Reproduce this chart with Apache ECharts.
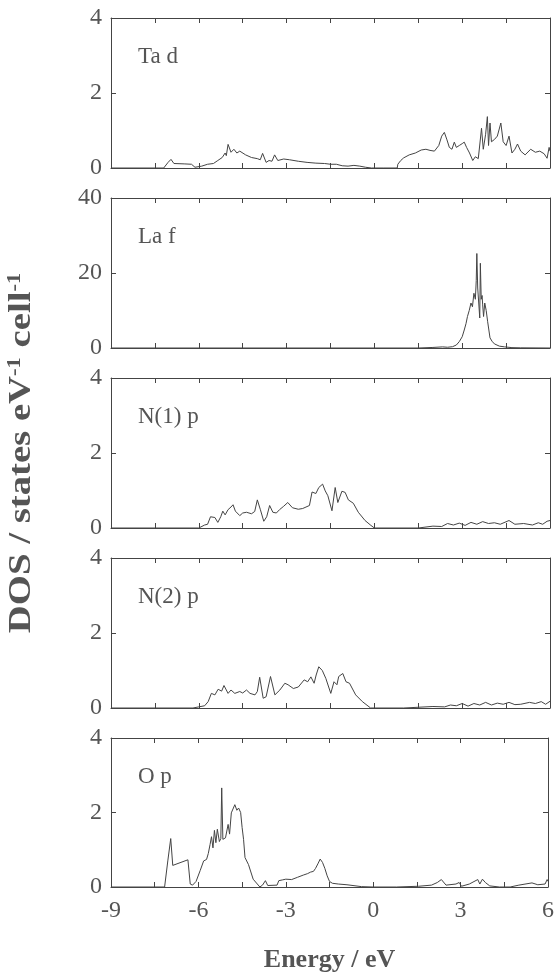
<!DOCTYPE html>
<html>
<head>
<meta charset="utf-8">
<script src="https://cdn.jsdelivr.net/npm/echarts@6/dist/echarts.min.js"></script>
<style>
  html, body { margin: 0; padding: 0; background: #fff; }
  #main { width: 557px; height: 974px; }
</style>
</head>
<body>
<div id="main"></div>
<script>
// energy range and panel labels
var xMin = -9, xMax = 6;
var panelNames = ['Ta d', 'La f', 'N(1) p', 'N(2) p', 'O p'];
var panelMax = [4, 40, 4, 4, 4];

// DOS curves, [energy eV, DOS]
var taD = [[-9,0],[-7.2,0],[-7.05,0.15],[-6.95,0.23],[-6.85,0.12],[-6.5,0.11],[-6.25,0.1],[-6.13,0.02],[-5.9,0.05],[-5.7,0.1],
  [-5.5,0.12],[-5.35,0.2],[-5.2,0.28],[-5.1,0.4],[-5.06,0.33],[-5.0,0.63],[-4.9,0.42],[-4.8,0.5],[-4.7,0.4],[-4.6,0.45],
  [-4.4,0.35],[-4.2,0.28],[-4.0,0.25],[-3.9,0.22],[-3.82,0.39],[-3.7,0.15],[-3.6,0.2],[-3.5,0.18],[-3.41,0.35],[-3.3,0.2],
  [-3.1,0.24],[-2.9,0.22],[-2.6,0.18],[-2.3,0.15],[-2.0,0.13],[-1.7,0.12],[-1.5,0.1],[-1.3,0.1],[-1.1,0.06],[-0.9,0.05],
  [-0.7,0.07],[-0.5,0.05],[-0.3,0.02],[-0.1,0],[0.3,0],[0.78,0],[0.8,0.1],[0.9,0.2],[1.0,0.27],[1.19,0.35],
  [1.4,0.4],[1.6,0.48],[1.76,0.5],[1.9,0.47],[2.05,0.45],[2.2,0.6],[2.3,0.85],[2.39,0.95],[2.48,0.75],[2.56,0.55],
  [2.65,0.5],[2.73,0.69],[2.8,0.55],[2.9,0.6],[3.0,0.65],[3.07,0.69],[3.15,0.55],[3.25,0.4],[3.36,0.2],[3.45,0.3],
  [3.55,0.25],[3.66,1.06],[3.72,0.5],[3.8,0.9],[3.86,1.37],[3.9,0.6],[3.95,1.2],[4.0,0.7],[4.1,0.76],[4.2,0.85],
  [4.32,1.2],[4.4,0.7],[4.5,0.6],[4.6,0.85],[4.7,0.4],[4.8,0.5],[4.89,0.64],[5.0,0.45],[5.15,0.35],[5.34,0.5],
  [5.5,0.42],[5.65,0.45],[5.8,0.38],[5.9,0.26],[5.97,0.55],[6.0,0.45]];

var laF = [[-9,0],[1.5,0],[2.0,0.15],[2.33,0.3],[2.5,0.2],[2.67,0.35],[2.8,0.8],[2.9,1.7],[3.0,3],[3.07,4.8],
  [3.13,6.5],[3.18,8.4],[3.24,10],[3.3,12],[3.35,11],[3.4,14.6],[3.45,13],[3.48,18],[3.5,25.2],[3.53,16],
  [3.56,15.8],[3.6,8],[3.62,22.6],[3.65,13],[3.68,14],[3.7,11.5],[3.73,8.4],[3.77,12],[3.82,10],[3.87,7],
  [3.95,2.7],[4.02,1.8],[4.1,1.1],[4.27,0.5],[4.45,0.3],[4.7,0.1],[5.0,0.05],[6,0]];

var n1P = [[-9,0],[-6.0,0],[-5.8,0.08],[-5.7,0.1],[-5.6,0.3],[-5.45,0.28],[-5.35,0.15],[-5.25,0.3],[-5.18,0.45],[-5.1,0.35],
  [-5.0,0.49],[-4.9,0.56],[-4.83,0.62],[-4.75,0.45],[-4.6,0.33],[-4.5,0.4],[-4.37,0.42],[-4.2,0.38],[-4.09,0.44],[-4.0,0.75],
  [-3.9,0.5],[-3.78,0.18],[-3.68,0.3],[-3.58,0.6],[-3.47,0.42],[-3.35,0.4],[-3.24,0.49],[-3.1,0.58],[-2.96,0.68],[-2.8,0.54],
  [-2.6,0.5],[-2.45,0.52],[-2.22,0.6],[-2.13,0.96],[-2.0,0.92],[-1.9,1.08],[-1.77,1.17],[-1.68,0.99],[-1.59,0.86],[-1.45,0.46],
  [-1.34,1.08],[-1.25,0.68],[-1.11,0.98],[-1.0,0.95],[-0.89,0.75],[-0.72,0.66],[-0.55,0.42],[-0.32,0.2],[-0.12,0.07],[0,0],
  [1.5,0],[2.0,0.05],[2.3,0.04],[2.5,0.12],[2.7,0.08],[2.9,0.13],[3.1,0.07],[3.3,0.15],[3.5,0.1],[3.7,0.17],
  [3.9,0.12],[4.1,0.14],[4.3,0.1],[4.6,0.2],[4.8,0.1],[5.1,0.12],[5.4,0.08],[5.6,0.14],[5.75,0.1],[5.9,0.18],[6,0.2]];

var n2P = [[-9,0],[-6.2,0],[-6.0,0.03],[-5.8,0.06],[-5.68,0.17],[-5.57,0.39],[-5.45,0.35],[-5.34,0.5],[-5.22,0.45],[-5.14,0.6],
  [-5.0,0.39],[-4.9,0.48],[-4.77,0.39],[-4.6,0.44],[-4.5,0.4],[-4.37,0.48],[-4.25,0.39],[-4.08,0.35],[-4.0,0.44],[-3.92,0.82],
  [-3.8,0.26],[-3.7,0.3],[-3.55,0.84],[-3.4,0.35],[-3.23,0.48],[-3.06,0.66],[-2.95,0.62],[-2.77,0.52],[-2.6,0.56],[-2.4,0.75],
  [-2.28,0.7],[-2.17,0.83],[-2.06,0.66],[-1.99,0.88],[-1.9,1.1],[-1.78,1.0],[-1.66,0.79],[-1.49,0.39],[-1.38,0.7],[-1.28,0.62],
  [-1.22,0.84],[-1.08,0.92],[-0.97,0.7],[-0.85,0.66],[-0.64,0.35],[-0.41,0.17],[-0.13,0],[1.0,0],[2.0,0.04],[2.4,0.03],
  [2.6,0.08],[2.8,0.06],[3.0,0.12],[3.2,0.05],[3.4,0.12],[3.6,0.08],[3.8,0.15],[4.0,0.08],[4.2,0.13],[4.4,0.1],
  [4.6,0.15],[4.8,0.09],[5.0,0.1],[5.3,0.15],[5.5,0.12],[5.7,0.17],[5.85,0.1],[6,0.18]];

var oP = [[-9,0],[-7.16,0],[-7.05,0.7],[-6.95,1.3],[-6.88,0.58],[-6.36,0.73],[-6.28,0.08],[-6.2,0.05],[-6.08,0.15],[-5.94,0.44],
  [-5.82,0.7],[-5.72,0.74],[-5.66,0.9],[-5.6,1.14],[-5.55,1.35],[-5.5,1.05],[-5.45,1.52],[-5.4,1.19],[-5.35,1.55],[-5.28,1.22],
  [-5.23,1.3],[-5.2,2.66],[-5.16,1.28],[-5.07,1.32],[-4.98,1.68],[-4.93,1.42],[-4.87,1.99],[-4.75,2.21],[-4.68,2.06],[-4.62,2.12],
  [-4.55,2.0],[-4.5,1.6],[-4.45,1.28],[-4.4,0.79],[-4.28,0.6],[-4.12,0.21],[-3.89,0],[-3.8,0.05],[-3.7,0.17],[-3.62,0.04],
  [-3.3,0.05],[-3.24,0.17],[-3.12,0.19],[-3.0,0.21],[-2.8,0.2],[-2.6,0.26],[-2.4,0.32],[-2.25,0.36],[-2.15,0.4],[-2.05,0.42],
  [-1.98,0.5],[-1.9,0.62],[-1.82,0.75],[-1.74,0.66],[-1.66,0.5],[-1.58,0.3],[-1.5,0.15],[-1.4,0.1],[-1.2,0.08],[-0.9,0.06],
  [-0.4,0.01],[0,0],[0.8,0],
  [1.56,0.02],[2.0,0.05],[2.2,0.12],[2.34,0.2],[2.5,0.05],[2.84,0.08],[2.95,0.12],[3.03,0.02],[3.3,0.08],[3.59,0.2],
  [3.66,0.08],[3.75,0.21],[3.85,0.12],[4.0,0.03],[4.33,0],[4.7,0],[5.0,0.05],[5.45,0.11],[5.65,0.06],[5.9,0.08],[5.97,0.2],[6,0.15]];

var curves = [taD, laF, n1P, n2P, oP];

var FONT = 'Liberation Serif';
var TXT = '#555';
var LINE = '#444';
var tops = [18, 198, 378, 558, 738];

var grids = [], xAxes = [], yAxes = [], series = [], titles = [];
for (var i = 0; i < 5; i++) {
  grids.push({ left: 111, right: 7, top: tops[i], height: 150 });
  var last = i === 4;
  var xBase = {
    gridIndex: i, type: 'value', min: xMin, max: xMax, interval: 1.5,
    axisLine: { show: true, onZero: false, lineStyle: { color: LINE, width: 1 } },
    axisTick: { show: true, inside: true, length: 5, lineStyle: { color: LINE } },
    splitLine: { show: false }
  };
  xAxes.push(Object.assign({}, xBase, {
    position: 'bottom',
    axisLabel: {
      show: last, margin: 12, fontFamily: FONT, fontSize: 24, color: TXT,
      formatter: function (v) { return v % 3 === 0 ? String(v) : ''; }
    },
    name: last ? 'Energy / eV' : '',
    nameLocation: 'middle', nameGap: 60,
    nameTextStyle: { fontFamily: FONT, fontSize: 26, fontWeight: 'bold', color: TXT }
  }));
  xAxes.push(Object.assign({}, xBase, { position: 'top', axisLabel: { show: false } }));

  var yBase = {
    gridIndex: i, type: 'value', min: 0, max: panelMax[i], interval: panelMax[i] / 2,
    axisLine: { show: true, onZero: false, lineStyle: { color: LINE, width: 1 } },
    axisTick: { show: true, inside: true, length: 5, lineStyle: { color: LINE } },
    splitLine: { show: false }
  };
  yAxes.push(Object.assign({}, yBase, {
    position: 'left',
    axisLabel: { margin: 9, fontFamily: FONT, fontSize: 24, color: TXT }
  }));
  yAxes.push(Object.assign({}, yBase, { position: 'right', axisLabel: { show: false } }));

  series.push({
    type: 'line', xAxisIndex: 2 * i, yAxisIndex: 2 * i,
    data: curves[i], showSymbol: false, symbol: 'none',
    lineStyle: { color: LINE, width: 1 }, animation: false
  });

  titles.push({
    text: panelNames[i], left: 133, top: tops[i] + 22,
    textStyle: { fontFamily: FONT, fontSize: 23, fontWeight: 'normal', color: TXT }
  });
}

var chart = echarts.init(document.getElementById('main'));
chart.setOption({
  animation: false,
  backgroundColor: '#fff',
  title: titles,
  grid: grids,
  xAxis: xAxes,
  yAxis: yAxes,
  series: series,
  graphic: [{
    type: 'text', x: 22, y: 453, rotation: Math.PI / 2, scaleX: 1.25,
    style: {
      text: '{b|DOS / states eV}{s|-1}{b| cell}{s|-1}',
      align: 'center', verticalAlign: 'middle',
      rich: {
        b: { fontFamily: FONT, fontSize: 31, fontWeight: 'bold', fill: TXT, color: TXT },
        s: { fontFamily: FONT, fontSize: 18, fontWeight: 'bold', fill: TXT, color: TXT, verticalAlign: 'top', padding: [0, 0, 12, 0] }
      }
    }
  }]
});
</script>
</body>
</html>
